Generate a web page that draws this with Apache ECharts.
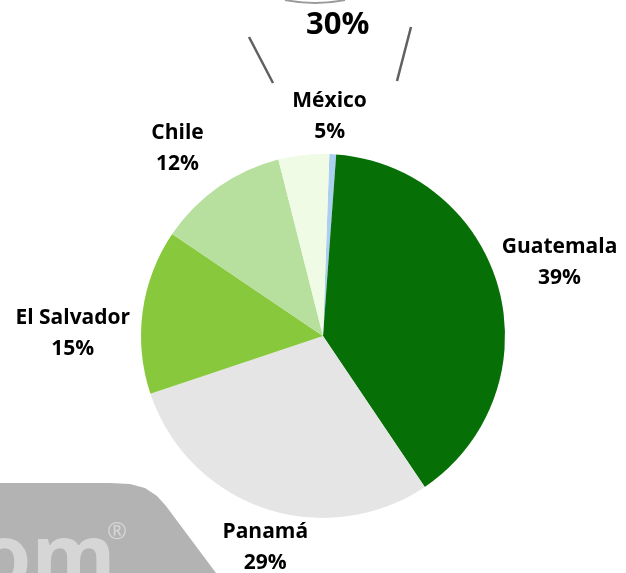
<!DOCTYPE html>
<html><head><meta charset="utf-8">
<script src="https://cdn.jsdelivr.net/npm/echarts@6/dist/echarts.min.js"></script>
<style>html,body{margin:0;padding:0;background:#fff}#c{width:626px;height:573px}</style>
</head><body><div id="c"></div>
<script>
const categories = ['', 'Guatemala', 'Panamá', 'El Salvador', 'Chile', 'México'];
const values = [0.6, 39.4, 29.3, 14.6, 11.6, 4.5];
const labels = ['', '39%', '29%', '15%', '12%', '5%'];
const colors = ['#AACFF0', '#067006', '#E5E5E5', '#88C83C', '#B7DF9E', '#F0FBE6'];
const topLabel = '30%';

// label nudges (style only)
const labelShift = [[0,0],[46,-24],[9,30],[-60,23],[-1,-61],[32,-29]];

const chart = echarts.init(document.getElementById('c'), null, {renderer: 'canvas'});
chart.setOption({
  animation: false,
  graphic: [
    {type: 'polygon', shape: {points: [[0,483],[110,483],[130,484],[145,488],[157,496],[166,506],[216,573],[0,573]]}, style: {fill: '#B3B3B3'}, z: 0},
    {type: 'text', left: -22, top: 518, style: {text: 'om', fill: '#D6D6D6', font: 'bold 86px "Open Sans"'}, z: 1},
    {type: 'text', left: 107, top: 520, style: {text: '®', fill: '#D6D6D6', font: '24px "Open Sans"'}, z: 1},
    {type: 'bezierCurve', shape: {x1: 285, y1: 0, cpx1: 305, cpy1: 4, cpx2: 325, cpy2: 4, x2: 345, y2: 0}, style: {fill: null, stroke: '#9A9A9A', lineWidth: 2}, z: 1},
    {type: 'text', left: 306, top: 10, style: {text: topLabel, fill: '#000', font: 'bold 31px "Open Sans"'}, z: 2},
    {type: 'line', shape: {x1: 249, y1: 37, x2: 273, y2: 83}, style: {stroke: '#606060', lineWidth: 2.5}},
    {type: 'line', shape: {x1: 411, y1: 27, x2: 397, y2: 81}, style: {stroke: '#606060', lineWidth: 2.5}}
  ],
  series: [{
    type: 'pie',
    center: [323, 336],
    radius: 182,
    startAngle: 88,
    clockwise: true,
    z: 3,
    itemStyle: {borderWidth: 0},
    label: {
      show: true,
      position: 'outside',
      formatter: p => p.dataIndex === 0 ? '' : p.name + '\n' + labels[p.dataIndex],
      color: '#000',
      fontFamily: 'Open Sans',
      fontWeight: 'bold',
      fontSize: 21,
      lineHeight: 31,
      overflow: 'none'
    },
    labelLine: {show: false, length: 10, length2: 0},
    labelLayout: p => ({align: 'center', dx: labelShift[p.dataIndex][0], dy: labelShift[p.dataIndex][1]}),
    data: categories.map((n, i) => ({name: n, value: values[i], itemStyle: {color: colors[i]}}))
  }]
});
</script></body></html>
